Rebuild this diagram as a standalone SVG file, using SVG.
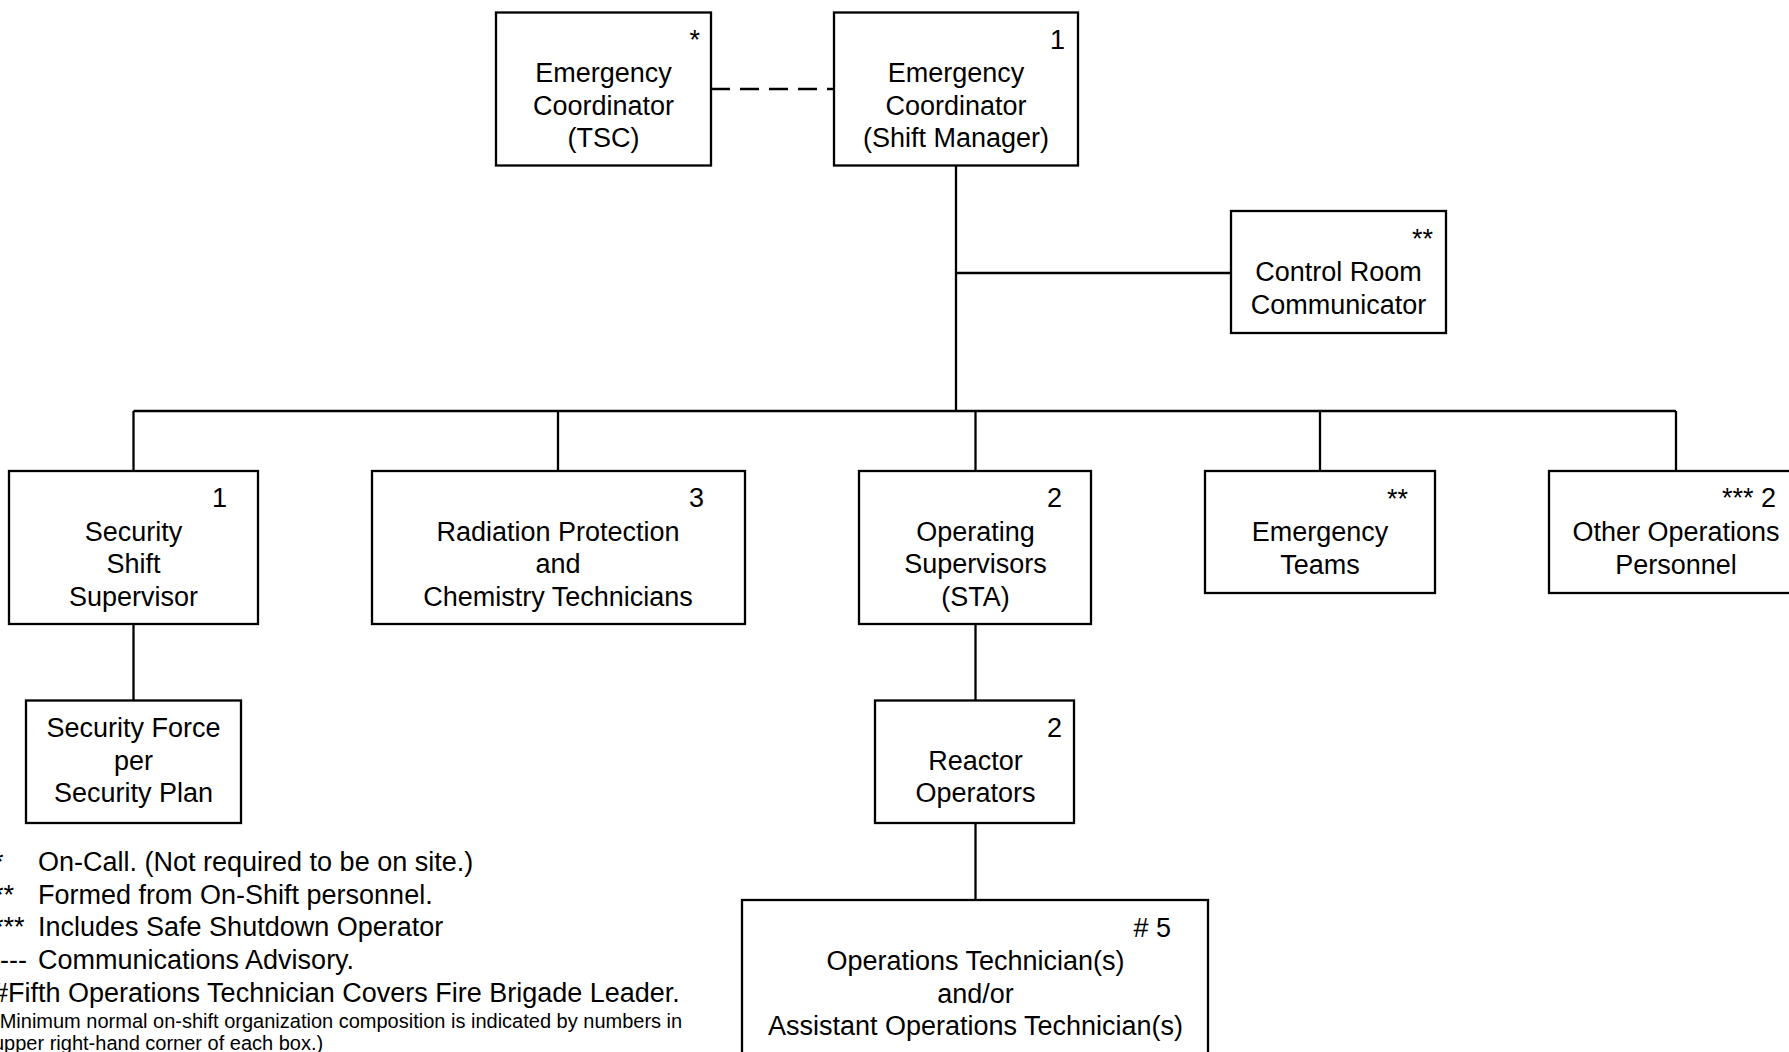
<svg xmlns="http://www.w3.org/2000/svg" width="1789" height="1052" viewBox="0 0 1789 1052">
<style>
text{font-family:"Liberation Sans",Arial,sans-serif;font-size:27px;fill:#000}
.c{text-anchor:middle}
.r{text-anchor:end}
.s{font-size:20px}
rect{fill:#fff;stroke:#000;stroke-width:2.3}
.ln{stroke:#000;stroke-width:2.3;fill:none}
.dash{stroke-dasharray:19 10}
</style>
<rect x="0" y="0" width="1789" height="1052" style="stroke:none"/>
<g id="connectors">
<line class="ln dash" x1="711" y1="89" x2="834" y2="89"/>
<line class="ln" x1="956" y1="165" x2="956" y2="411"/>
<line class="ln" x1="956" y1="273" x2="1231" y2="273"/>
<line class="ln" x1="133.5" y1="411" x2="1676" y2="411"/>
<line class="ln" x1="133.5" y1="411" x2="133.5" y2="471"/>
<line class="ln" x1="558" y1="411" x2="558" y2="471"/>
<line class="ln" x1="975.5" y1="411" x2="975.5" y2="471"/>
<line class="ln" x1="1320" y1="411" x2="1320" y2="471"/>
<line class="ln" x1="1676" y1="411" x2="1676" y2="471"/>
<line class="ln" x1="133.5" y1="624" x2="133.5" y2="700"/>
<line class="ln" x1="975.5" y1="624" x2="975.5" y2="700"/>
<line class="ln" x1="975.5" y1="823" x2="975.5" y2="900"/>
</g>
<g id="ec-tsc">
<rect x="496" y="12.5" width="215" height="153"/>
<text class="r" x="700" y="49">*</text>
<text class="c" x="603.5" y="82">Emergency</text>
<text class="c" x="603.5" y="114.5">Coordinator</text>
<text class="c" x="603.5" y="147">(TSC)</text>
</g>
<g id="ec-shift">
<rect x="834" y="12.5" width="244" height="153"/>
<text class="r" x="1065" y="49">1</text>
<text class="c" x="956" y="82">Emergency</text>
<text class="c" x="956" y="114.5">Coordinator</text>
<text class="c" x="956" y="147">(Shift Manager)</text>
</g>
<g id="control-room">
<rect x="1231" y="211" width="215" height="122"/>
<text class="r" x="1433" y="248">**</text>
<text class="c" x="1338.5" y="281">Control Room</text>
<text class="c" x="1338.5" y="313.5">Communicator</text>
</g>
<g id="security-supervisor">
<rect x="9" y="471" width="249" height="153"/>
<text class="r" x="227" y="507">1</text>
<text class="c" x="133.5" y="540.5">Security</text>
<text class="c" x="133.5" y="573">Shift</text>
<text class="c" x="133.5" y="605.5">Supervisor</text>
</g>
<g id="radiation">
<rect x="372" y="471" width="373" height="153"/>
<text class="r" x="704" y="507">3</text>
<text class="c" x="558" y="540.5">Radiation Protection</text>
<text class="c" x="558" y="573">and</text>
<text class="c" x="558" y="605.5">Chemistry Technicians</text>
</g>
<g id="operating-supervisors">
<rect x="859" y="471" width="232" height="153"/>
<text class="r" x="1062" y="507">2</text>
<text class="c" x="975.5" y="540.5">Operating</text>
<text class="c" x="975.5" y="573">Supervisors</text>
<text class="c" x="975.5" y="605.5">(STA)</text>
</g>
<g id="emergency-teams">
<rect x="1205" y="471" width="230" height="122"/>
<text class="r" x="1408" y="508">**</text>
<text class="c" x="1320" y="541">Emergency</text>
<text class="c" x="1320" y="573.5">Teams</text>
</g>
<g id="other-ops">
<rect x="1549" y="471" width="254" height="122"/>
<text class="r" x="1776" y="507">*** 2</text>
<text class="c" x="1676" y="541">Other Operations</text>
<text class="c" x="1676" y="573.5">Personnel</text>
</g>
<g id="security-force">
<rect x="26" y="700.5" width="215" height="122.5"/>
<text class="c" x="133.5" y="737">Security Force</text>
<text class="c" x="133.5" y="770">per</text>
<text class="c" x="133.5" y="802">Security Plan</text>
</g>
<g id="reactor-operators">
<rect x="875" y="700.5" width="199" height="122.5"/>
<text class="r" x="1062" y="737">2</text>
<text class="c" x="975.5" y="770">Reactor</text>
<text class="c" x="975.5" y="802">Operators</text>
</g>
<g id="ops-technicians">
<rect x="742" y="900" width="466" height="170"/>
<text class="r" x="1171" y="937"># 5</text>
<text class="c" x="975.5" y="969.5">Operations Technician(s)</text>
<text class="c" x="975.5" y="1002.5">and/or</text>
<text class="c" x="975.5" y="1034.5">Assistant Operations Technician(s)</text>
</g>
<g id="legend">
<text x="-7" y="870.5">*</text>
<text x="38" y="870.5">On-Call. (Not required to be on site.)</text>
<text x="-7" y="903.5">**</text>
<text x="38" y="903.5">Formed from On-Shift personnel.</text>
<text x="-7" y="935.5">***</text>
<text x="38" y="935.5">Includes Safe Shutdown Operator</text>
<text x="0" y="968.5">---</text>
<text x="38" y="968.5">Communications Advisory.</text>
<text x="-7" y="1001.5">#Fifth Operations Technician Covers Fire Brigade Leader.</text>
<text class="s" x="-7" y="1028">(Minimum normal on-shift organization composition is indicated by numbers in</text>
<text class="s" x="-7" y="1050">upper right-hand corner of each box.)</text>
</g>
</svg>
